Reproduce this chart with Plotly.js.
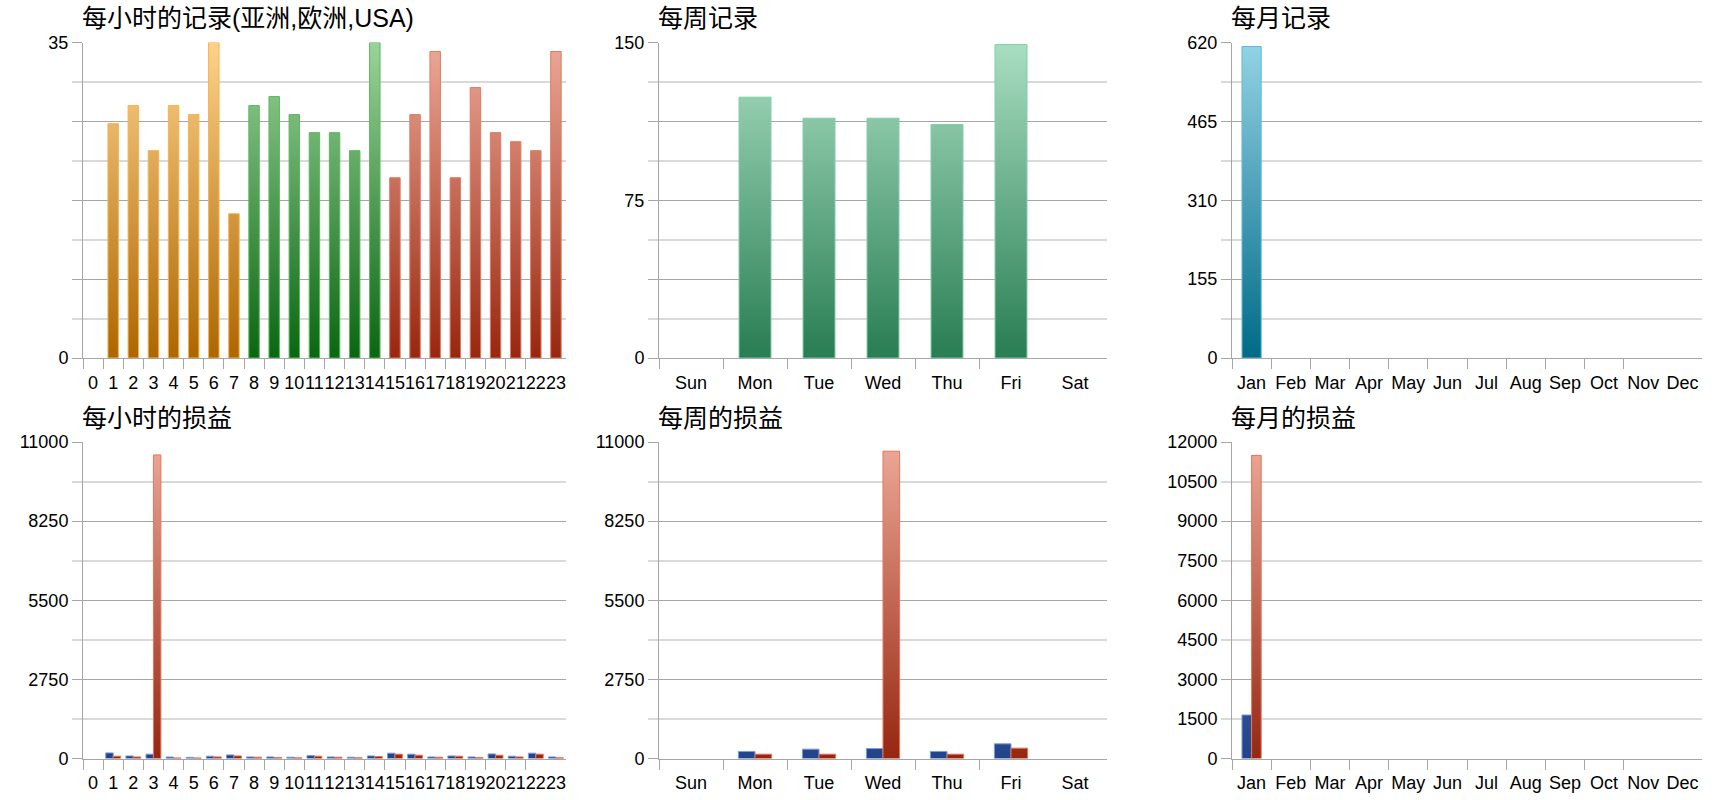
<!DOCTYPE html>
<html>
<head>
<meta charset="utf-8">
<script src="https://cdn.plot.ly/plotly-3.0.1.min.js"></script>
<style>
  html, body { margin: 0; padding: 0; background: #fff; }
  #chart { width: 1720px; height: 800px; }
</style>
</head>
<body>
<div id="chart"></div>
<script>
// ---- data ----
var hours = ['0', '1', '2', '3', '4', '5', '6', '7', '8', '9', '10', '11',
             '12', '13', '14', '15', '16', '17', '18', '19', '20', '21', '22', '23'];
var hourRegion = ['亚洲', '亚洲', '亚洲', '亚洲', '亚洲', '亚洲', '亚洲', '亚洲',
                  '欧洲', '欧洲', '欧洲', '欧洲', '欧洲', '欧洲', '欧洲',
                  'USA', 'USA', 'USA', 'USA', 'USA', 'USA', 'USA', 'USA', 'USA'];
var hourRecords = [0, 26, 28, 23, 28, 27, 35, 16, 28, 29, 27, 25,
                   25, 23, 35, 20, 27, 34, 20, 30, 25, 24, 23, 34];
var hourProfit = [0, 195, 90, 150, 50, 40, 80, 125, 55, 55, 45, 100,
                  55, 45, 90, 185, 150, 55, 90, 55, 160, 80, 185, 55];
var hourLoss = [0, 80, 55, 10550, 20, 20, 55, 90, 45, 35, 25, 80,
                45, 25, 70, 150, 115, 45, 80, 35, 115, 55, 150, 25];

var weekdays = ['Sun', 'Mon', 'Tue', 'Wed', 'Thu', 'Fri', 'Sat'];
var weekRecords = [0, 124, 114, 114, 111, 149, 0];
var weekProfit = [0, 245, 325, 345, 245, 510, 0];
var weekLoss = [0, 150, 150, 10680, 150, 360, 0];

var months = ['Jan', 'Feb', 'Mar', 'Apr', 'May', 'Jun', 'Jul', 'Aug', 'Sep', 'Oct', 'Nov', 'Dec'];
var monthRecords = [612, 0, 0, 0, 0, 0, 0, 0, 0, 0, 0, 0];
var monthProfit = [1650, 0, 0, 0, 0, 0, 0, 0, 0, 0, 0, 0];
var monthLoss = [11490, 0, 0, 0, 0, 0, 0, 0, 0, 0, 0, 0];

var titles = ['每小时的记录(亚洲,欧洲,USA)', '每周记录', '每月记录',
              '每小时的损益', '每周的损益', '每月的损益'];

// y axis ticks (5 major lines per panel, labels where the chart shows them)
var hourRecTicks = [0, 8.75, 17.5, 26.25, 35];
var hourRecLabels = ['0', '', '', '', '35'];
var weekRecTicks = [0, 37.5, 75, 112.5, 150];
var weekRecLabels = ['0', '', '75', '', '150'];
var monthRecTicks = [0, 155, 310, 465, 620];
var plTicks = [0, 2750, 5500, 8250, 11000];
var monthPlTicks = [0, 3000, 6000, 9000, 12000];
var monthPlMinorTicks = [1500, 4500, 7500, 10500];

// ---- styles ----
var TICK_FONT = {family: 'Liberation Sans, Arial, sans-serif', size: 18, color: '#000'};
var TITLE_FONT = {family: 'Liberation Sans, Noto Sans CJK SC, sans-serif', size: 25, color: '#000'};
var DARK_GRID = '#a6a6a6';
var LIGHT_GRID = '#d9d9d9';

var regionStyle = {
    '亚洲': {dark: '#ad6600', light: '#fed28c', edge: '#f7b24a'},
    '欧洲': {dark: '#0a6612', light: '#9ad39a', edge: '#5cb85c'},
    'USA': {dark: '#98260e', light: '#eca999', edge: '#e07b63'}
};
var weekStyle = {dark: '#287d52', light: '#a9dec2', edge: '#80cfa5'};
var monthStyle = {dark: '#006a87', light: '#94d3e6', edge: '#5bbcd9'};
var profitStyle = {dark: '#22448a', light: '#5f82c8', edge: '#7b9be0'};
var lossStyle = {dark: '#962610', light: '#eda999', edge: '#e8735a'};

var W = 1720, H = 800;
var colDomains = [[83 / W, 566 / W], [659 / W, 1107 / W], [1232 / W, 1702 / W]];
var rowDomains = [[1 - 358 / H, 1 - 42.5 / H], [1 - 758.5 / H, 1 - 442 / H]];

// bars as filled outlines so the fill can carry a vertical gradient
function barTrace(vals, offset, width, style, top, axisNo) {
    var xs = [], ys = [];
    for (var i = 0; i < vals.length; i++) {
        var v = vals[i];
        if (!v) continue;
        var x0 = i + offset - width / 2, x1 = i + offset + width / 2;
        xs.push(x0, x0, x1, x1, x0, null);
        ys.push(0, v, v, 0, 0, null);
    }
    return {
        type: 'scatter', mode: 'lines', x: xs, y: ys,
        fill: 'toself',
        fillgradient: {type: 'vertical', start: 0, stop: top,
                       colorscale: [[0, style.dark], [1, style.light]]},
        line: {color: style.edge, width: 1},
        xaxis: 'x' + axisNo, yaxis: 'y' + axisNo,
        hoverinfo: 'skip', showlegend: false
    };
}

function xAxis(labels, col, axisNo) {
    var n = labels.length;
    var idx = [], bounds = [];
    for (var i = 0; i < n; i++) idx.push(i);
    for (var b = 0; b < n - 1; b++) bounds.push(b - 0.5);
    return {
        domain: colDomains[col], anchor: 'y' + axisNo,
        range: [-0.5, n - 0.5], fixedrange: true,
        tickmode: 'array', tickvals: idx, ticktext: labels,
        ticks: '', ticklabelstandoff: 8, tickangle: 0,
        showgrid: false, zeroline: false,
        showline: true, linecolor: DARK_GRID, linewidth: 1,
        tickfont: TICK_FONT,
        minor: {tickmode: 'array', tickvals: bounds, ticks: 'outside', ticklen: 10,
                tickcolor: DARK_GRID, tickwidth: 1, showgrid: false}
    };
}

function yAxis(top, tickvals, ticktext, row, axisNo) {
    var step = top / 8;
    return {
        domain: rowDomains[row], anchor: 'x' + axisNo,
        range: [0, top], fixedrange: true,
        tickmode: 'array', tickvals: tickvals, ticktext: ticktext || tickvals.map(String),
        ticks: 'outside', ticklen: 10, tickcolor: DARK_GRID, tickwidth: 1,
        showgrid: true, gridcolor: DARK_GRID, gridwidth: 1,
        zeroline: false, showline: true, linecolor: DARK_GRID, linewidth: 1,
        tickfont: TICK_FONT,
        minor: {tickmode: 'array', tickvals: [step, 3 * step, 5 * step, 7 * step],
                ticks: 'outside', ticklen: 10, tickcolor: LIGHT_GRID, tickwidth: 2,
                showgrid: true, gridcolor: LIGHT_GRID, gridwidth: 2}
    };
}

var traces = [];
['亚洲', '欧洲', 'USA'].forEach(function(r) {
    var vals = hourRecords.map(function(v, i) { return hourRegion[i] === r ? v : 0; });
    traces.push(barTrace(vals, 0, 0.52, regionStyle[r], 35, 1));
});
traces.push(barTrace(weekRecords, 0, 0.5, weekStyle, 150, 2));
traces.push(barTrace(monthRecords, 0, 0.49, monthStyle, 620, 3));
traces.push(barTrace(hourProfit, -0.185, 0.37, profitStyle, 11000, 4));
traces.push(barTrace(hourLoss, 0.185, 0.37, lossStyle, 11000, 4));
traces.push(barTrace(weekProfit, -0.13, 0.26, profitStyle, 11000, 5));
traces.push(barTrace(weekLoss, 0.13, 0.26, lossStyle, 11000, 5));
traces.push(barTrace(monthProfit, -0.123, 0.245, profitStyle, 12000, 6));
traces.push(barTrace(monthLoss, 0.123, 0.245, lossStyle, 12000, 6));
// empty trace so the extra label axis of the last panel is drawn
traces.push({type: 'scatter', x: [], y: [], xaxis: 'x6', yaxis: 'y7', showlegend: false});

var layout = {
    width: W, height: H,
    margin: {l: 0, r: 0, t: 0, b: 0},
    paper_bgcolor: '#fff', plot_bgcolor: '#fff',
    showlegend: false,
    xaxis: xAxis(hours, 0, 1),
    xaxis2: xAxis(weekdays, 1, 2),
    xaxis3: xAxis(months, 2, 3),
    xaxis4: xAxis(hours, 0, 4),
    xaxis5: xAxis(weekdays, 1, 5),
    xaxis6: xAxis(months, 2, 6),
    yaxis: yAxis(35, hourRecTicks, hourRecLabels, 0, 1),
    yaxis2: yAxis(150, weekRecTicks, weekRecLabels, 0, 2),
    yaxis3: yAxis(620, monthRecTicks, null, 0, 3),
    yaxis4: yAxis(11000, plTicks, null, 1, 4),
    yaxis5: yAxis(11000, plTicks, null, 1, 5),
    yaxis6: yAxis(12000, monthPlTicks, null, 1, 6),
    yaxis7: {
        overlaying: 'y6', anchor: 'x6', side: 'left',
        range: [0, 12000], fixedrange: true,
        tickmode: 'array', tickvals: monthPlMinorTicks, ticktext: monthPlMinorTicks.map(String),
        ticks: 'outside', ticklen: 10, tickcolor: LIGHT_GRID, tickwidth: 2,
        showgrid: false, zeroline: false, showline: false,
        tickfont: TICK_FONT
    },
    annotations: titles.map(function(t, i) {
        var col = i % 3, row = Math.floor(i / 3);
        return {
            xref: 'paper', yref: 'paper',
            x: colDomains[col][0] - 3 / W, y: rowDomains[row][1] + 24 / H,
            xanchor: 'left', yanchor: 'middle',
            text: t, showarrow: false, font: TITLE_FONT
        };
    })
};

Plotly.newPlot('chart', traces, layout, {displayModeBar: false, staticPlot: true});
</script>
</body>
</html>
